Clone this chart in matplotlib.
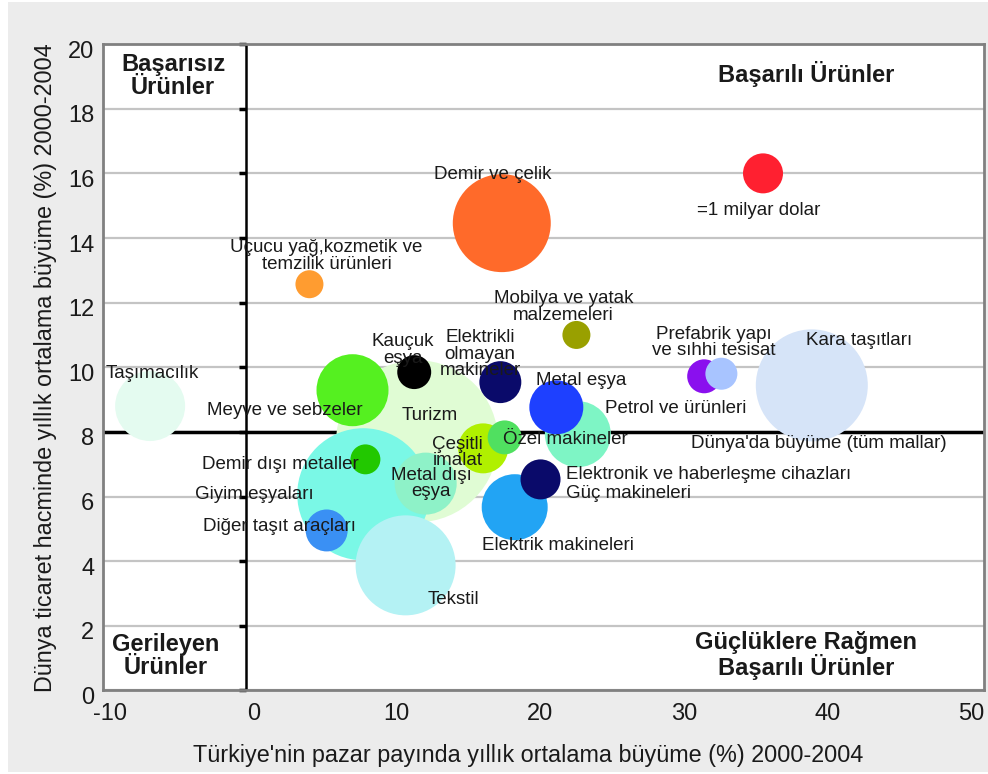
import matplotlib.pyplot as plt
import numpy as np
from matplotlib.patches import Rectangle
from matplotlib.transforms import ScaledTranslation

plt.rcParams['font.family'] = ['Liberation Sans', 'DejaVu Sans']
plt.rcParams['axes.unicode_minus'] = False

# bubble data: x = Turkish market share growth, y = world trade growth, size = billion $
names = ['Turizm', 'Giyim eşyaları', 'Kara taşıtları', 'Taşımacılık', 'Demir ve çelik',
         'Tekstil', 'Meyve ve sebzeler', 'Metal dışı eşya', 'Petrol ve ürünleri',
         'Elektrik makineleri', 'Metal eşya', 'Çeşitli imalat', 'Özel makineler',
         'Kauçuk eşya', 'Elektrikli olmayan makineler', 'Elektronik ve haberleşme cihazları',
         'Demir dışı metaller', 'Diğer taşıt araçları', 'Prefabrik yapı', 'Güç makineleri',
         'Uçucu yağ', 'Mobilya', '=1 milyar dolar']
x_vals = [11.9, 8.15, 39.4, -6.7, 17.8,
          11.1, 7.4, 12.5, 23.1,
          18.7, 21.6, 16.5, 18.0,
          11.7, 17.7, 20.5,
          8.3, 5.6, 31.9, 33.1,
          4.4, 23.0, 36.0]
y_vals = [7.71, 6.07, 9.44, 8.8, 14.46,
          3.87, 9.29, 6.4, 7.93,
          5.67, 8.76, 7.49, 7.83,
          9.85, 9.54, 6.53,
          7.15, 4.95, 9.72, 9.8,
          12.57, 11.0, 16.0]
values = [16.4, 10.9, 7.84, 3.06, 6.0,
          6.25, 3.24, 2.4, 2.72,
          2.72, 1.82, 1.56, 0.72,
          0.72, 1.1, 1.0,
          0.56, 1.1, 0.72, 0.64,
          0.49, 0.49, 1.0]
colors = ['#e0fcd4', '#7af8e6', '#d6e4f8', '#e4fbf0', '#ff6a2a',
          '#b4f2f4', '#55f020', '#8ef2c8', '#7ef5c5',
          '#22a4f4', '#1e40ff', '#b0f000', '#50e060',
          '#000000', '#0a0a6a', '#0a0a6a',
          '#22c800', '#3a90f4', '#8a10ee', '#a8c4ff',
          '#ff9c30', '#99a000', '#ff2030']

# text labels placed by hand (data coords)
labels = ['Demir ve çelik', '=1 milyar dolar', 'Uçucu yağ,kozmetik ve\ntemzilik ürünleri',
          'Mobilya ve yatak\nmalzemeleri', 'Prefabrik yapı\nve sıhhi tesisat', 'Kara taşıtları',
          'Kauçuk\neşya', 'Elektrikli\nolmayan\nmakineler', 'Metal eşya', 'Petrol ve ürünleri',
          'Taşımacılık', 'Meyve ve sebzeler', 'Turizm', 'Dünya\'da büyüme (tüm mallar)',
          'Çeşitli\nimalat', 'Özel makineler', 'Demir dışı metaller', 'Metal dışı\neşya',
          'Giyim eşyaları', 'Diğer taşıt araçları', 'Elektrik makineleri', 'Tekstil']
label_x = [17.2, 35.7, 5.6, 22.1, 32.6, 42.7,
           10.9, 16.3, 23.3, 29.9,
           -6.55, 2.7, 12.8, 39.9,
           14.7, 22.2, 2.4, 12.9,
           0.56, 2.3, 21.7, 14.4]
label_y = [15.97, 14.86, 13.44, 11.86, 10.77, 10.84,
           10.53, 10.4, 9.6, 8.73,
           9.81, 8.67, 8.51, 7.65,
           7.37, 7.77, 7.0, 6.41,
           6.07, 5.08, 4.49, 2.82]
left_labels = ['Elektronik ve haberleşme cihazları', 'Güç makineleri']
left_x = [22.3, 22.3]
left_y = [6.69, 6.1]

quad_labels = ['Başarısız\nÜrünler', 'Başarılı Ürünler', 'Gerileyen\nÜrünler',
               'Güçlüklere Rağmen\nBaşarılı Ürünler']
quad_x = [-5.1, 39.0, -5.6, 39.0]
quad_y = [19.0, 19.07, 1.05, 1.08]

yticks = np.arange(0, 21, 2)
xticks = np.arange(-10, 51, 10)

fig = plt.figure(figsize=(9.88, 7.74), dpi=100, facecolor='white')
# gray panel behind the chart (thin white edge on the left)
fig.patches.append(Rectangle((8 / 988, 2 / 774), 1, 1 - 4 / 774, transform=fig.transFigure,
                             facecolor='#ececec', edgecolor='none', zorder=-1))
ax = fig.add_axes([0.104, 0.108, 0.892, 0.835])
ax.set_facecolor('white')

px_per_pt = 100 / 72
ref_r = 20  # radius in px of the 1 billion bubble
s_ref = (2 * ref_r / px_per_pt) ** 2
ax.scatter(x_vals, y_vals, s=np.array(values) * s_ref, c=colors, edgecolors='none', zorder=3)

for t, x, y in zip(labels, label_x, label_y):
    ax.text(x, y, t, ha='center', va='center', fontsize=13.5, color='#1a1a1a',
            linespacing=0.95, zorder=5)
for t, x, y in zip(left_labels, left_x, left_y):
    ax.text(x, y, t, ha='left', va='center', fontsize=13.5, color='#1a1a1a', zorder=5)
for t, x, y in zip(quad_labels, quad_x, quad_y):
    ax.text(x, y, t, ha='center', va='center', fontsize=17, fontweight='bold',
            color='#1a1a1a', linespacing=1.0, zorder=5)

# quadrant lines
ax.axhline(8, color='black', lw=2.5, zorder=2)
ax.axvline(0, color='black', lw=1.8, zorder=2)
ax.plot(np.zeros(len(yticks)), yticks, ls='none', marker=0, ms=5, mew=2.5,
        color='black', zorder=2, clip_on=False)

ax.set_xlim(-10, 51.4)
ax.set_ylim(0, 20)
ax.set_xticks(xticks)
ax.set_yticks(yticks)
ax.tick_params(length=0, labelsize=17, labelcolor='#1a1a1a')
ax.tick_params(axis='x', pad=9)
ax.tick_params(axis='y', pad=6)
for lab in ax.get_xticklabels():
    lab.set_transform(lab.get_transform() + ScaledTranslation(0.07, 0, fig.dpi_scale_trans))
for lab in ax.get_yticklabels():
    lab.set_transform(lab.get_transform() + ScaledTranslation(0, -0.05, fig.dpi_scale_trans))
ax.yaxis.grid(True, color='#c4c4c4', lw=1.6, zorder=1)
ax.set_axisbelow(True)
for sp in ax.spines.values():
    sp.set_color('#808080')
    sp.set_linewidth(2)

ax.set_xlabel('Türkiye\'nin pazar payında yıllık ortalama büyüme (%) 2000-2004',
              fontsize=16.8, color='#1a1a1a', labelpad=14)
ax.xaxis.label.set_x(0.483)
ax.set_ylabel('Dünya ticaret hacminde yıllık ortalama büyüme (%) 2000-2004',
              fontsize=16.8, color='#1a1a1a', labelpad=8)

fig.savefig('out.png', dpi=100)
